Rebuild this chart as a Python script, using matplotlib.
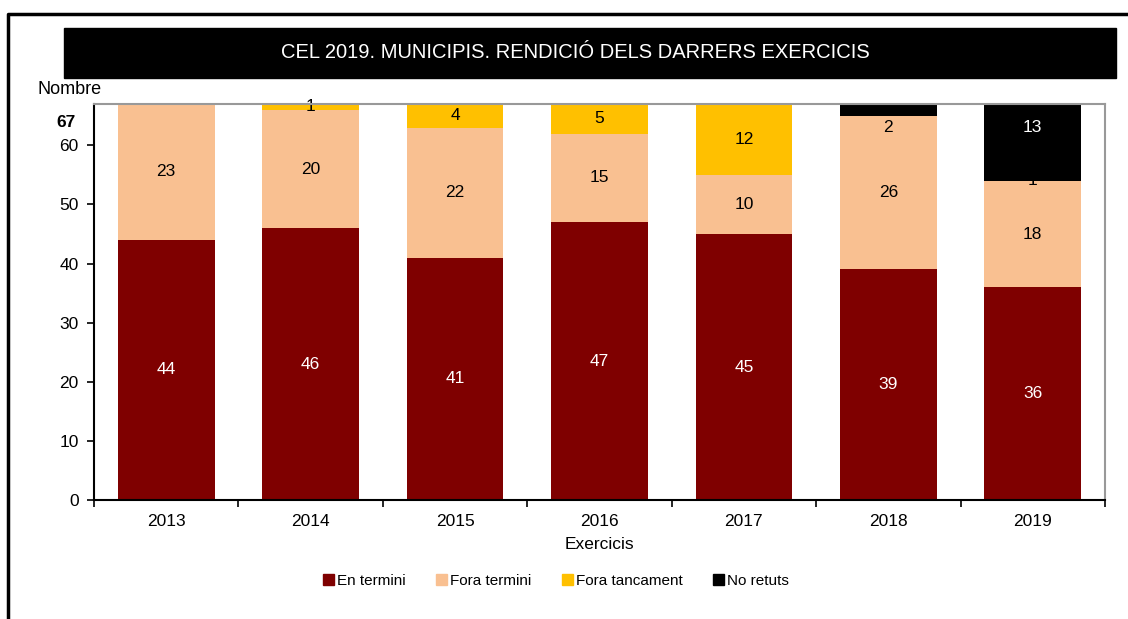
import numpy as np
import matplotlib
matplotlib.use("Agg")
from matplotlib import pyplot as plt
from matplotlib.patches import Rectangle
from matplotlib.lines import Line2D

# Data
years = ["2013", "2014", "2015", "2016", "2017", "2018", "2019"]
en_termini = [44, 46, 41, 47, 45, 39, 36]
fora_termini = [23, 20, 22, 15, 10, 26, 18]
fora_tancament = [0, 1, 4, 5, 12, 0, 0]
tancament_labels = ["", "1", "4", "5", "12", "", "1"]
no_retuts = [0, 0, 0, 0, 0, 2, 13]
series_names = ["En termini", "Fora termini", "Fora tancament", "No retuts"]
colors = ["#7F0000", "#F9C091", "#FFC000", "#000000"]
y_ticks = [0, 10, 20, 30, 40, 50, 60]
y_max = 67

plt.rcParams["font.family"] = ["Liberation Sans", "DejaVu Sans"]


def main():
    fig = plt.figure(figsize=(11.28, 6.19), dpi=100)
    ax = fig.add_axes([94 / 1128, 1 - 500 / 619, 1011 / 1128, 396 / 619])

    x = np.arange(len(years))
    width = 0.67
    a = np.array(en_termini)
    b = np.array(fora_termini)
    c = np.array(fora_tancament)
    d = np.array(no_retuts)

    ax.bar(x, a, width, color=colors[0], zorder=2)
    ax.bar(x, b, width, bottom=a, color=colors[1], zorder=2)
    ax.bar(x, c, width, bottom=a + b, color=colors[2], zorder=2)
    ax.bar(x, d, width, bottom=a + b + c, color=colors[3], zorder=4)

    fs = 12.5
    for i in range(len(years)):
        ax.text(x[i], a[i] / 2, str(a[i]), ha="center", va="center", color="white", fontsize=fs, zorder=5)
        ax.text(x[i], a[i] + b[i] / 2, str(b[i]), ha="center", va="center", color="black", fontsize=fs, zorder=5)
        if tancament_labels[i]:
            yl = a[i] + b[i] + c[i] / 2
            ax.text(x[i], yl, tancament_labels[i], ha="center", va="center", color="black", fontsize=fs, zorder=3)
        if d[i] > 0:
            yl = y_max - 4
            inside = yl >= a[i] + b[i] + c[i]
            ax.text(x[i], yl, str(d[i]), ha="center", va="center",
                    color="white" if inside else "black", fontsize=fs, zorder=5)

    ax.set_xlim(-0.5, len(years) - 0.5)
    ax.set_ylim(0, y_max)
    ax.set_yticks(y_ticks)
    ax.tick_params(axis="y", direction="out", length=5, width=1.2, labelsize=12.5, pad=6)
    ax.annotate(str(y_max), xy=(0, y_max), xycoords=("axes fraction", "data"),
                xytext=(-13, -13), textcoords="offset points", ha="right", va="center",
                fontsize=12.5, fontweight="bold")

    ax.set_xticks(x)
    ax.set_xticklabels(years)
    ax.set_xticks(np.arange(len(years) + 1) - 0.5, minor=True)
    ax.tick_params(axis="x", which="major", length=0, labelsize=12.5, pad=10)
    ax.tick_params(axis="x", which="minor", direction="out", length=5, width=1.2)

    for s in ["left", "bottom"]:
        ax.spines[s].set_color("black")
        ax.spines[s].set_linewidth(1.5)
    for s in ["top", "right"]:
        ax.spines[s].set_color("#999999")
        ax.spines[s].set_linewidth(1.5)
    ax.spines["top"].set_zorder(6)

    ax.set_xlabel("Exercicis", fontsize=12.5, labelpad=6)
    fig.text(70 / 1128, 1 - 90 / 619, "Nombre", ha="center", va="center", fontsize=13)

    # title box
    fig.patches.append(Rectangle((64 / 1128, 1 - 78 / 619), 1052 / 1128, 50 / 619,
                                 transform=fig.transFigure, color="black", zorder=1))
    fig.text(575 / 1128, 1 - 53 / 619, "CEL 2019. MUNICIPIS. RENDICIÓ DELS DARRERS EXERCICIS",
             ha="center", va="center", color="white", fontsize=14.5)

    # outer frame (left and top)
    fig.lines.append(Line2D([8 / 1128, 8 / 1128, 1.0], [0.0, 1 - 14 / 619, 1 - 14 / 619],
                            transform=fig.transFigure, color="black", linewidth=2.5))

    handles = [Rectangle((0, 0), 1, 1, color=col) for col in colors]
    fig.legend(handles, series_names, loc="center", bbox_to_anchor=(556 / 1128, 1 - 581 / 619),
               ncol=4, frameon=False, fontsize=11, handlelength=0.7, handleheight=0.7,
               handletextpad=0.2, columnspacing=2.0)

    fig.savefig("out.png", dpi=100)


if __name__ == "__main__":
    main()
